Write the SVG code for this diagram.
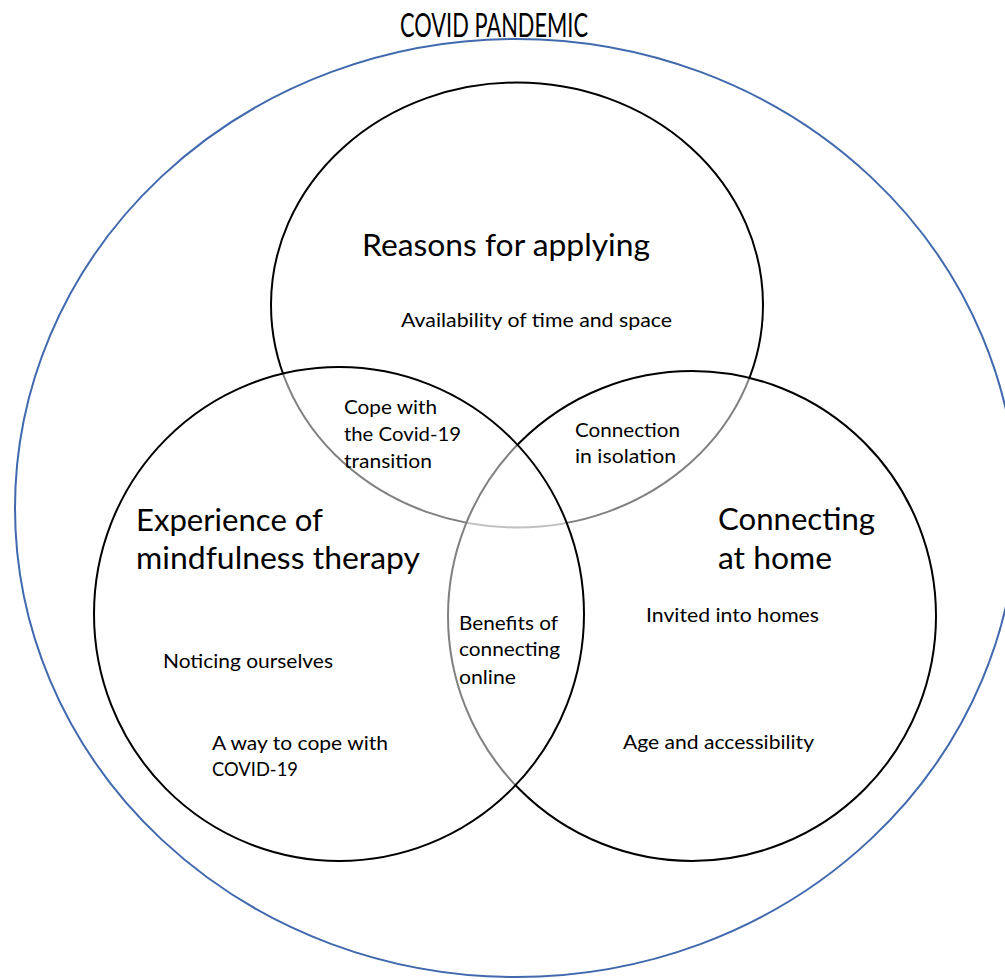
<svg xmlns="http://www.w3.org/2000/svg" width="1005" height="979" viewBox="0 0 1005 979">
<style>
  .set { fill: #ffffff; fill-opacity: 0.5; stroke: #000000; stroke-width: 2; }
  .outer { fill: none; stroke: #4169AE; stroke-width: 2; }
  text { font-family: Lato, "Open Sans", "Liberation Sans", sans-serif; fill: #000000; }
  .big { font-size: 30px; }
  .title { font-size: 32px; }
  .small { font-size: 19px; }
</style>
<rect x="0" y="0" width="1005" height="979" fill="#ffffff"/>
<g id="covid-pandemic">
  <ellipse class="outer" cx="516" cy="508" rx="501" ry="469"/>
  <text class="title" x="400" y="37" textLength="188" lengthAdjust="spacingAndGlyphs">COVID PANDEMIC</text>
</g>
<g id="reasons-for-applying">
  <ellipse class="set" cx="517" cy="305" rx="246" ry="222.5"/>
</g>
<g id="connecting-at-home">
  <ellipse class="set" cx="692" cy="616" rx="244" ry="245"/>
</g>
<g id="experience-of-mindfulness">
  <ellipse class="set" cx="339" cy="614" rx="245" ry="247"/>
</g>
<g id="labels-reasons">
  <text class="big" x="362" y="256" textLength="288" lengthAdjust="spacingAndGlyphs">Reasons for applying</text>
  <text class="small" x="401" y="327" textLength="271" lengthAdjust="spacingAndGlyphs">Availability of time and space</text>
</g>
<g id="labels-cope-transition">
  <text class="small" x="344" y="414" textLength="93" lengthAdjust="spacingAndGlyphs">Cope with</text>
  <text class="small" x="344" y="441" textLength="117" lengthAdjust="spacingAndGlyphs">the Covid-19</text>
  <text class="small" x="344" y="468" textLength="88" lengthAdjust="spacingAndGlyphs">transition</text>
</g>
<g id="labels-connection-isolation">
  <text class="small" x="575" y="437" textLength="105" lengthAdjust="spacingAndGlyphs">Connection</text>
  <text class="small" x="575" y="463" textLength="101" lengthAdjust="spacingAndGlyphs">in isolation</text>
</g>
<g id="labels-experience">
  <text class="big" x="136" y="531" textLength="187" lengthAdjust="spacingAndGlyphs">Experience of</text>
  <text class="big" x="136" y="569" textLength="284" lengthAdjust="spacingAndGlyphs">mindfulness therapy</text>
  <text class="small" x="163" y="668" textLength="170" lengthAdjust="spacingAndGlyphs">Noticing ourselves</text>
  <text class="small" x="212" y="750" textLength="176" lengthAdjust="spacingAndGlyphs">A way to cope with</text>
  <text class="small" x="212" y="776" textLength="86" lengthAdjust="spacingAndGlyphs">COVID-19</text>
</g>
<g id="labels-benefits-online">
  <text class="small" x="459" y="630" textLength="99" lengthAdjust="spacingAndGlyphs">Benefits of</text>
  <text class="small" x="459" y="656" textLength="101" lengthAdjust="spacingAndGlyphs">connecting</text>
  <text class="small" x="459" y="684" textLength="57" lengthAdjust="spacingAndGlyphs">online</text>
</g>
<g id="labels-connecting-home">
  <text class="big" x="718" y="530" textLength="157" lengthAdjust="spacingAndGlyphs">Connecting</text>
  <text class="big" x="718" y="569" textLength="114" lengthAdjust="spacingAndGlyphs">at home</text>
  <text class="small" x="646" y="622" textLength="173" lengthAdjust="spacingAndGlyphs">Invited into homes</text>
  <text class="small" x="623" y="749" textLength="191" lengthAdjust="spacingAndGlyphs">Age and accessibility</text>
</g>
</svg>
